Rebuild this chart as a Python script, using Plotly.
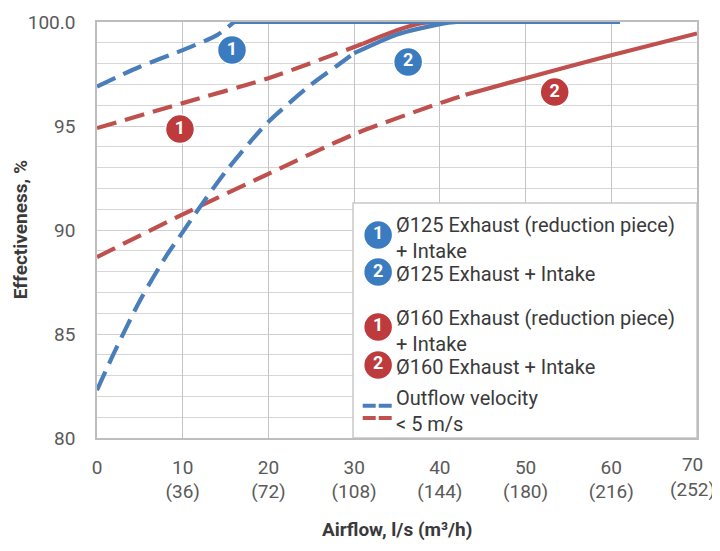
import plotly.graph_objects as go

# ---------------- data ----------------
x_ticks = [0, 10, 20, 30, 40, 50, 60, 70]
x_tick_m3h = [None, 36, 72, 108, 144, 180, 216, 252]
y_ticks = [80, 85, 90, 95, 100]
y_tick_text = ["80", "85", "90", "95", "100.0"]

# Ø125 Exhaust (reduction piece) + Intake
b1_x = [0, 5, 10, 14, 16, 20, 30, 40, 50, 61]
b1_y = [96.9, 97.85, 98.65, 99.37, 100, 100, 100, 100, 100, 100]
b1_dash_until = 16

# Ø125 Exhaust + Intake
b2_x = [0, 2, 5, 8, 10, 12, 15, 18, 20, 25, 28, 30, 35, 40, 42, 50, 61]
b2_y = [82.3, 84.1, 86.6, 88.7, 89.9, 91.1, 92.8, 94.3, 95.2, 97.0, 97.9, 98.5,
        99.4, 99.9, 100, 100, 100]
b2_dash_until = 30

# Ø160 Exhaust (reduction piece) + Intake
r1_x = [0, 10, 20, 30, 31, 35, 38, 40]
r1_y = [94.9, 96.1, 97.3, 98.8, 98.95, 99.6, 99.95, 100]
r1_dash_until = 31

# Ø160 Exhaust + Intake
r2_x = [0, 10, 20, 30, 40, 43, 50, 60, 70]
r2_y = [88.7, 90.75, 92.7, 94.6, 96.1, 96.5, 97.3, 98.4, 99.45]
r2_dash_until = 43

legend_labels = [
    "Ø125 Exhaust (reduction piece)<br>+ Intake",
    "Ø125 Exhaust + Intake",
    "Ø160 Exhaust (reduction piece)<br>+ Intake",
    "Ø160 Exhaust + Intake",
]
velocity_note = "Outflow velocity<br>&lt; 5 m/s"

# ---------------- styles ----------------
BLUE = "#4a7ebb"
RED = "#c0504d"
BLUE_B = "#3b7bbf"
RED_B = "#bd3a3d"
FONT = "Roboto"
TXT = "#3a3a3a"
TICK = "#5a5a5a"
DASH = "20px,9px"
LW = 4.2

fig = go.Figure()


def add_series(xs, ys, split, color):
    dx = [x for x in xs if x <= split]
    dy = [y for x, y in zip(xs, ys) if x <= split]
    sx = [x for x in xs if x >= split]
    sy = [y for x, y in zip(xs, ys) if x >= split]
    fig.add_trace(go.Scatter(x=dx, y=dy, mode="lines", showlegend=False,
                             hoverinfo="skip",
                             line=dict(color=color, width=LW, dash=DASH,
                                       shape="spline", smoothing=0.8)))
    fig.add_trace(go.Scatter(x=sx, y=sy, mode="lines", showlegend=False,
                             hoverinfo="skip",
                             line=dict(color=color, width=LW,
                                       shape="spline", smoothing=0.6)))


add_series(r2_x, r2_y, r2_dash_until, RED)
add_series(r1_x, r1_y, r1_dash_until, RED)
add_series(b2_x, b2_y, b2_dash_until, BLUE)
add_series(b1_x, b1_y, b1_dash_until, BLUE)

# numbered badges on the curves and in the legend
badges = [
    (15.75, 98.65, "1", BLUE_B),
    (36.3, 98.08, "2", BLUE_B),
    (9.68, 94.85, "1", RED_B),
    (53.4, 96.63, "2", RED_B),
    (32.8, 89.76, "1", BLUE_B),
    (32.8, 87.98, "2", BLUE_B),
    (32.8, 85.34, "1", RED_B),
    (32.8, 83.51, "2", RED_B),
]
for bx, by, bt, bc in badges:
    fig.add_trace(go.Scatter(
        x=[bx], y=[by], mode="markers+text", text=[bt],
        textposition="middle center", showlegend=False, hoverinfo="skip",
        cliponaxis=False,
        marker=dict(size=29, color=bc, line=dict(color="white", width=1.5)),
        textfont=dict(family=FONT, size=18, color="white", weight="bold"),
    ))

annotations = []
legend_text_y = [89.62, 87.88, 85.15, 83.41]
for t, yy in zip(legend_labels, legend_text_y):
    annotations.append(dict(x=34.75, y=yy, xref="x", yref="y", text=t,
                            showarrow=False, xanchor="left", yanchor="middle",
                            align="left", borderpad=0,
                            font=dict(family=FONT, size=20, color=TXT)))
annotations.append(dict(x=34.75, y=81.28, xref="x", yref="y",
                        text=velocity_note, showarrow=False, xanchor="left",
                        yanchor="middle", align="left", borderpad=0,
                        font=dict(family=FONT, size=20, color=TXT)))

annotations.append(dict(x=-0.128, y=0.5, xref="paper", yref="paper",
                        text="<b>Effectiveness, %</b>", textangle=-90,
                        showarrow=False, xanchor="center", yanchor="middle",
                        font=dict(family=FONT, size=19, color=TXT)))
annotations.append(dict(x=0.5, y=-0.221, xref="paper", yref="paper",
                        text="<b>Airflow, l/s (m³/h)</b>", showarrow=False,
                        xanchor="center", yanchor="middle",
                        font=dict(family=FONT, size=19, color=TXT)))

x_text = [str(v) if m is None else f"{v}<br>({m})"
          for v, m in zip(x_ticks, x_tick_m3h)]
# last tick label sits slightly raised and pulled in, as in the original
last_label = x_text[-1]
x_text[-1] = ""
annotations.append(dict(x=0.9933, y=-0.094, xref="paper", yref="paper",
                        text=last_label, showarrow=False, xanchor="center",
                        yanchor="middle", borderpad=0,
                        font=dict(family=FONT, size=19, color=TICK)))

shapes = [
    dict(type="rect", xref="x", yref="y", x0=29.87, x1=70, y0=80, y1=91.3,
         fillcolor="white", line=dict(color="#c8c8c8", width=1.5),
         layer="between"),
    dict(type="line", xref="x", yref="y", x0=31.0, x1=34.4, y0=81.55,
         y1=81.55, line=dict(color=BLUE, width=4, dash="13px,3px")),
    dict(type="line", xref="x", yref="y", x0=31.0, x1=34.4, y0=80.96,
         y1=80.96, line=dict(color=RED, width=4, dash="13px,3px")),
]

# the page body adds an 8px offset, so margins are reduced accordingly
fig.update_layout(
    width=720, height=551,
    margin=dict(l=89, r=31, t=14, b=121),
    paper_bgcolor="white", plot_bgcolor="white",
    font=dict(family=FONT, color=TICK),
    annotations=annotations,
    shapes=shapes,
    xaxis=dict(range=[0, 70], tickvals=x_ticks, ticktext=x_text,
               automargin=False,
               showgrid=True, gridcolor="#c4c4c4", gridwidth=1.3,
               showline=True, linecolor="#bdbdbd", linewidth=1.5, mirror=True,
               zeroline=False, ticks="", ticklabelstandoff=11,
               tickfont=dict(family=FONT, size=19, color=TICK)),
    yaxis=dict(range=[80, 100], tickvals=y_ticks, ticktext=y_tick_text,
               automargin=False,
               showgrid=True, gridcolor="#cfcfcf", gridwidth=1.3,
               minor=dict(dtick=1, showgrid=True, gridcolor="#d6d6d6",
                          gridwidth=1.3),
               showline=True, linecolor="#bdbdbd", linewidth=1.5, mirror=True,
               zeroline=False, ticks="", ticklabelstandoff=16,
               tickfont=dict(family=FONT, size=19, color=TICK)),
)

fig.write_html("out.html")
